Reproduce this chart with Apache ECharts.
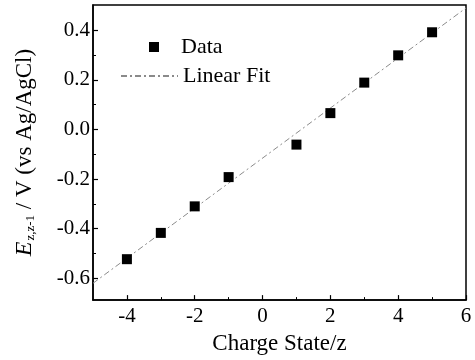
<!DOCTYPE html>
<html><head><meta charset="utf-8">
<script src="https://cdn.jsdelivr.net/npm/echarts@6/dist/echarts.min.js"></script>
<style>html,body{margin:0;padding:0;background:#fff}#c{width:475px;height:360px}</style>
</head><body><div id="c"></div>
<script>
// Data
var chargeStates = [-4, -3, -2, -1, 1, 2, 3, 4, 5];
var potentials = [-0.523, -0.417, -0.310, -0.192, -0.061, 0.066, 0.189, 0.299, 0.392];
var fitX = [-5, 6];
var fitY = [-0.62, 0.49];
var xTicks = [-4, -2, 0, 2, 4, 6];
var xMinorTicks = [-3, -1, 1, 3, 5];
var yTicks = [-0.6, -0.4, -0.2, 0, 0.2, 0.4];
var yMinorTicks = [-0.5, -0.3, -0.1, 0.1, 0.3];
var xRange = [-5, 6];
var yRange = [-0.688, 0.502];

var serif = '"Liberation Serif", "DejaVu Serif", serif';
var chart = echarts.init(document.getElementById('c'));
var grid = {left: 93, right: 9, top: 5, bottom: 55, show: true, borderColor: '#000', borderWidth: 1.5, backgroundColor: 'transparent'};
function baseX(extra) {
  return Object.assign({type: 'value', position: 'bottom', min: xRange[0], max: xRange[1], splitLine: {show: false}}, extra);
}
function baseY(extra) {
  return Object.assign({type: 'value', position: 'left', min: yRange[0], max: yRange[1], splitLine: {show: false}}, extra);
}
var option = {
  animation: false,
  grid: grid,
  xAxis: [
    baseX({
      axisLine: {show: true, onZero: false, lineStyle: {color: '#000', width: 1.5}},
      axisTick: {show: true, inside: true, length: 5, customValues: xTicks, lineStyle: {color: '#000', width: 1.2}},
      axisLabel: {show: true, customValues: xTicks, margin: 6, color: '#000', fontFamily: serif, fontSize: 21,
        formatter: function (v) { return String(v); }},
      name: 'Charge State/z', nameLocation: 'middle', nameGap: 26,
      nameTextStyle: {color: '#000', fontFamily: serif, fontSize: 23}
    }),
    baseX({
      axisLine: {show: false, onZero: false},
      axisTick: {show: true, inside: true, length: 3, customValues: xMinorTicks, lineStyle: {color: '#000', width: 1}},
      axisLabel: {show: false}
    })
  ],
  yAxis: [
    baseY({
      axisLine: {show: true, onZero: false, lineStyle: {color: '#000', width: 1.5}},
      axisTick: {show: true, inside: true, length: 5, customValues: yTicks, lineStyle: {color: '#000', width: 1.2}},
      axisLabel: {show: true, customValues: yTicks, margin: 3, color: '#000', fontFamily: serif, fontSize: 21,
        formatter: function (v) { return v.toFixed(1); }},
      name: '{e|E}{sub|z,z-1}{n| / V (vs Ag/AgCl)}', nameLocation: 'middle', nameGap: 56, nameRotate: 90,
      nameTextStyle: {color: '#000', fontFamily: serif, fontSize: 22,
        rich: {
          e: {fontFamily: serif, fontSize: 24, fontStyle: 'italic', color: '#000'},
          sub: {fontFamily: serif, fontSize: 13, color: '#000', padding: [12, 0, 0, 1]},
          n: {fontFamily: serif, fontSize: 23, color: '#000'}
        }}
    }),
    baseY({
      axisLine: {show: false, onZero: false},
      axisTick: {show: true, inside: true, length: 3, customValues: yMinorTicks, lineStyle: {color: '#000', width: 1}},
      axisLabel: {show: false}
    })
  ],
  legend: [
    {data: ['Data'], left: 144, top: 31, orient: 'vertical', itemWidth: 10, itemHeight: 10, icon: 'rect',
      textStyle: {color: '#000', fontFamily: serif, fontSize: 22, padding: [0, 0, 0, 17]}},
    {data: ['Linear Fit'], left: 115, top: 60, orient: 'vertical', itemWidth: 57, itemHeight: 10,
      itemStyle: {opacity: 0},
      textStyle: {color: '#000', fontFamily: serif, fontSize: 22}}
  ],
  series: [
    {name: 'Linear Fit', type: 'line', xAxisIndex: 0, yAxisIndex: 0, symbol: 'none', silent: true,
      data: fitX.map(function (x, i) { return [x, fitY[i]]; }),
      itemStyle: {color: '#8a8a8a'},
      lineStyle: {color: '#8a8a8a', width: 1, type: [6, 3, 2, 3]}, z: 2},
    {name: 'Data', type: 'scatter', xAxisIndex: 0, yAxisIndex: 0, symbol: 'rect', symbolSize: 10,
      data: chargeStates.map(function (x, i) { return [x, potentials[i]]; }),
      itemStyle: {color: '#000', opacity: 1}, z: 3}
  ]
};
chart.setOption(option);
</script></body></html>
